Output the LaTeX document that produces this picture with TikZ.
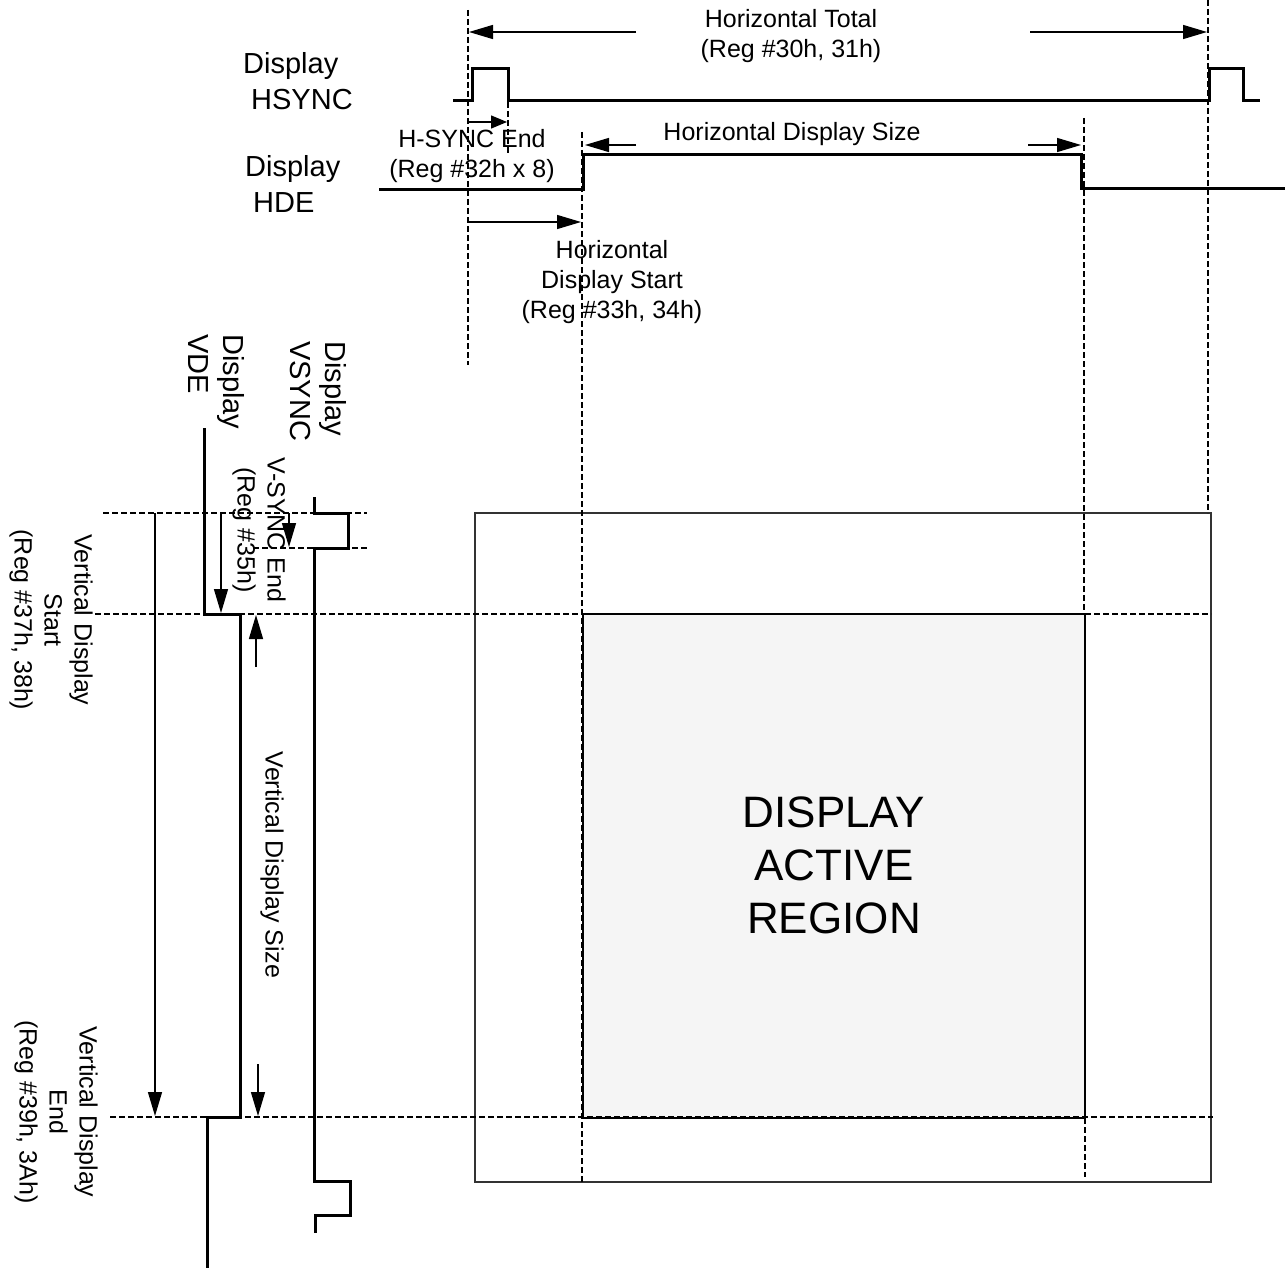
\documentclass[tikz,border=0pt]{standalone}
\usepackage{fontspec}
\setmainfont{Liberation Sans}
\usetikzlibrary{arrows.meta}
\begin{document}
\begin{tikzpicture}[x=1pt,y=-1pt,
  wave/.style={line width=3pt, line join=miter},
  dashln/.style={line width=1.4pt, dash pattern=on 6pt off 3pt},
  arr/.style={line width=1.3pt, -{Triangle[length=24pt,width=14pt]}},
  sarr/.style={line width=1.3pt, -{Triangle[length=16pt,width=13pt]}},
  lbl/.style={font=\fontsize{25}{30}\selectfont, align=center, inner sep=0pt},
  big/.style={font=\fontsize{29}{35}\selectfont, inner sep=0pt},
  huge/.style={font=\fontsize{44}{53}\selectfont, align=center, inner sep=0pt}]
\useasboundingbox (0,0) rectangle (1287,1268);

% regions
\draw[line width=1.3pt, draw=black!80] (475,513) rectangle (1211,1182);
\draw[line width=1.2pt, fill=black!4] (583,614) rectangle (1085,1118);
\node[huge] (act) at (834,865) {DISPLAY\\ACTIVE\\REGION};

% dashed guides
\draw[dashln] (468,10) -- (468,365);
\draw[dashln] (582,132) -- (582,1182);
\draw[dashln] (1084,118) -- (1084,614);
\draw[dashln] (1085,1118) -- (1085,1177);
\draw[dashln] (1208,0) -- (1208,513);
\draw[dashln] (508,102) -- (508,154);
\draw[dashln] (103,513) -- (367,513);
\draw[dashln] (253,548) -- (369,548);
\draw[dashln] (95,614) -- (582,614);
\draw[dashln] (1085,614) -- (1211,614);
\draw[dashln] (110,1117) -- (1213,1117);

% waveforms
\draw[wave] (453,101) -- (472,101) -- (472,69) -- (508,69) -- (508,101) -- (1209,101) -- (1209,69) -- (1243,69) -- (1243,101) -- (1260,101);
\draw[wave] (379,190) -- (583,190) -- (583,155) -- (1081,155) -- (1081,189) -- (1285,189);
\draw[wave] (204,428) -- (204,614) -- (240,614) -- (240,1117) -- (207,1117) -- (207,1268);
\draw[wave] (314,497) -- (314,513) -- (348,513) -- (348,548) -- (314,548) -- (314,1181) -- (350,1181) -- (350,1215) -- (315,1215) -- (315,1233);

% horizontal arrows
\draw[arr] (636,32) -- (469,32);
\draw[arr] (1030,32) -- (1207,32);
\draw[arr] (636,145) -- (585,145);
\draw[arr] (1028,145) -- (1081,145);
\draw[arr] (468,222) -- (581,222);
\draw[sarr] (468,122) -- (507,122);

% vertical arrows
\draw[arr] (155,513) -- (155,1116);
\draw[arr] (221,513) -- (221,613);
\draw[arr] (289,513) -- (289,547);
\draw[arr] (256,667) -- (256,615);
\draw[arr] (258,1064) -- (258,1116);

% labels
\node[big, anchor=base west] (hs1) at (243,74) {Display};
\node[big, anchor=base west] (hs2) at (251,110) {HSYNC};
\node[big, anchor=base west] (hd1) at (245,177) {Display};
\node[big, anchor=base west] (hd2) at (253,212) {HDE};

\node[lbl] (ht) at (791,36) {Horizontal Total\\(Reg \#30h, 31h)};
\node[lbl] (hse) at (472,156) {H-SYNC End\\(Reg \#32h x 8)};
\node[lbl] (hds) at (792,134) {Horizontal Display Size};
\node[lbl] (hst) at (612,282) {Horizontal\\Display Start\\(Reg \#33h, 34h)};

\node[big, align=left, rotate=-90, anchor=north west] (vs) at (347,341) {Display\\VSYNC};
\node[big, align=left, rotate=-90, anchor=north west] (vd) at (245,334) {Display\\VDE};
\node[lbl, rotate=-90] (vse) at (259,530) {V-SYNC End\\(Reg \#35h)};
\node[lbl, rotate=-90] (vst) at (51,620) {Vertical Display\\Start\\(Reg \#37h, 38h)};
\node[lbl, rotate=-90] (vsz) at (272,865) {Vertical Display Size};
\node[lbl, rotate=-90] (ven) at (56,1112) {Vertical Display\\End\\(Reg \#39h, 3Ah)};
\end{tikzpicture}
\end{document}
